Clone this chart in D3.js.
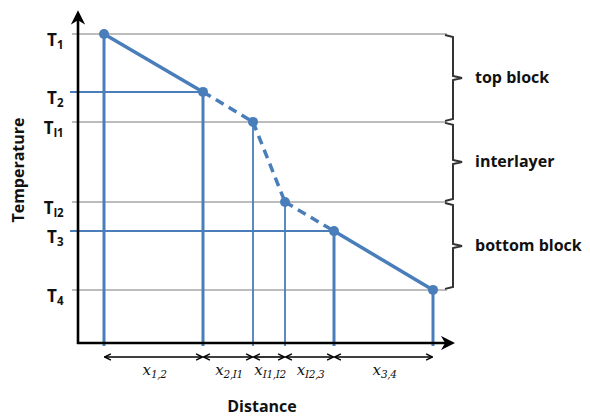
<!DOCTYPE html>
<html>
<head>
<meta charset="utf-8">
<script src="https://cdn.jsdelivr.net/npm/d3@7"></script>
<style>
  body { margin: 0; background: #fff; }
  svg { display: block; }
</style>
</head>
<body>
<div id="chart"></div>
<script>
// ---- data ----
const pointNames = ["1", "2", "I1", "I2", "3", "4"];
const distance = [6.5, 31.25, 43.75, 51.75, 64, 88.75];
const temperature = [103, 83.7, 73.7, 47, 37.3, 17.7];
const blockNames = ["top block", "interlayer", "bottom block"];
const blockBounds = [["1", "I1"], ["I1", "I2"], ["I2", "4"]];

const width = 590, height = 419;
const blue = "#4a7ebb";
const gray = "#a6a6a6";
const sans = "'Open Sans', Lato, sans-serif";

const svg = d3.select("#chart").append("svg")
  .attr("width", width)
  .attr("height", height);

const x = d3.scaleLinear().domain([0, 100]).range([78, 478]);
const y = d3.scaleLinear().domain([0, 110]).range([343, 13]);

const points = pointNames.map((n, i) => ({ name: n, d: distance[i], t: temperature[i] }));
const byName = n => points.find(p => p.name === n);
const isInter = n => n.startsWith("I");

// boundary levels (gray, full width)
const boundaryNames = new Set(blockBounds.flat());

const defs = svg.append("defs");
defs.append("marker")
  .attr("id", "axisHead")
  .attr("viewBox", "0 0 10 10")
  .attr("refX", 5).attr("refY", 5)
  .attr("markerWidth", 5.5).attr("markerHeight", 5.5)
  .attr("markerUnits", "strokeWidth")
  .attr("orient", "auto")
  .append("path")
  .attr("d", "M0,0 L10,5 L0,10 L3,5 Z")
  .attr("fill", "#000");

defs.append("marker")
  .attr("id", "dimHead")
  .attr("viewBox", "0 0 10 10")
  .attr("refX", 9).attr("refY", 5)
  .attr("markerWidth", 5).attr("markerHeight", 5)
  .attr("markerUnits", "strokeWidth")
  .attr("orient", "auto-start-reverse")
  .append("path")
  .attr("d", "M1,1 L9,5 L1,9")
  .attr("fill", "none")
  .attr("stroke", "#000")
  .attr("stroke-width", 1.8);

/* gray reference lines */
svg.selectAll(".level")
  .data(points.filter(p => boundaryNames.has(p.name)))
  .enter().append("line")
  .attr("x1", x(0) - 6).attr("x2", 447)
  .attr("y1", d => y(d.t)).attr("y2", d => y(d.t))
  .attr("stroke", gray)
  .attr("stroke-width", 1.5);

/* blue level lines to points */
svg.selectAll(".plevel")
  .data(points.filter(p => !boundaryNames.has(p.name)))
  .enter().append("line")
  .attr("x1", x(0) - 8).attr("x2", d => x(d.d))
  .attr("y1", d => y(d.t)).attr("y2", d => y(d.t))
  .attr("stroke", blue)
  .attr("stroke-width", 2);

/* verticals */
svg.selectAll(".vert")
  .data(points)
  .enter().append("line")
  .attr("x1", d => x(d.d)).attr("x2", d => x(d.d))
  .attr("y1", d => y(d.t)).attr("y2", y(0) + 3)
  .attr("stroke", blue)
  .attr("stroke-width", d => isInter(d.name) ? 1.8 : 3);

/* profile segments */
const segs = d3.pairs(points);
svg.selectAll(".seg")
  .data(segs)
  .enter().append("line")
  .attr("x1", d => x(d[0].d)).attr("y1", d => y(d[0].t))
  .attr("x2", d => x(d[1].d)).attr("y2", d => y(d[1].t))
  .attr("stroke", blue)
  .attr("stroke-width", 3.5)
  .attr("stroke-dasharray", d => (isInter(d[0].name) || isInter(d[1].name)) ? "9,6" : null);

svg.selectAll(".pt")
  .data(points)
  .enter().append("circle")
  .attr("cx", d => x(d.d)).attr("cy", d => y(d.t))
  .attr("r", 5)
  .attr("fill", blue);

/* axes */
svg.append("line")
  .attr("x1", x(0)).attr("y1", y(0) + 1)
  .attr("x2", x(0)).attr("y2", y(108.5))
  .attr("stroke", "#000").attr("stroke-width", 2.6)
  .attr("marker-end", "url(#axisHead)");
svg.append("line")
  .attr("x1", x(0) - 1).attr("y1", y(0))
  .attr("x2", x(92.5)).attr("y2", y(0))
  .attr("stroke", "#000").attr("stroke-width", 2.6)
  .attr("marker-end", "url(#axisHead)");

/* temperature tick labels */
const tl = svg.selectAll(".tlab")
  .data(points)
  .enter().append("text")
  .attr("x", 63)
  .attr("y", d => y(d.t) + 12)
  .attr("text-anchor", "end")
  .attr("font-family", sans)
  .attr("font-weight", "bold")
  .attr("font-size", 17)
  .attr("fill", "#111");
tl.append("tspan").text("T");
tl.append("tspan").attr("dy", 3).attr("font-size", 11.5)
  .attr("letter-spacing", -0.5).text(d => d.name);

/* dimension arrows */
const dimY = 357;
svg.selectAll(".dim")
  .data(segs)
  .enter().append("line")
  .attr("x1", d => x(d[0].d) + 0.5).attr("x2", d => x(d[1].d) - 0.5)
  .attr("y1", dimY).attr("y2", dimY)
  .attr("stroke", "#000").attr("stroke-width", 1.6)
  .attr("marker-start", "url(#dimHead)")
  .attr("marker-end", "url(#dimHead)");

const dl = svg.selectAll(".dlab")
  .data(segs)
  .enter().append("text")
  .attr("x", d => (x(d[0].d) + x(d[1].d)) / 2 + 1)
  .attr("y", 375)
  .attr("text-anchor", "middle")
  .attr("font-family", "'DejaVu Serif', 'Liberation Serif', serif")
  .attr("font-style", "italic")
  .attr("font-size", 15)
  .attr("fill", "#111");
dl.append("tspan").text("x");
dl.append("tspan").attr("dy", 3).attr("font-size", 10.5)
  .attr("letter-spacing", -0.4)
  .text(d => d[0].name + "," + d[1].name);

/* block brackets */
const bx = 453;
blockNames.forEach((name, i) => {
  const y1 = y(byName(blockBounds[i][0]).t) + 1;
  const y2 = y(byName(blockBounds[i][1]).t) - 1;
  const ym = (y1 + y2) / 2;
  svg.append("path")
    .attr("d", `M${bx - 8},${y1} L${bx},${y1 + 2} L${bx},${ym - 2} L${bx + 9},${ym} L${bx},${ym + 2} L${bx},${y2 - 2} L${bx - 8},${y2}`)
    .attr("fill", "none")
    .attr("stroke", "#333")
    .attr("stroke-width", 2);
  svg.append("text")
    .attr("x", 475).attr("y", ym + 5)
    .attr("font-family", sans)
    .attr("font-weight", "bold")
    .attr("font-size", 16)
    .attr("fill", "#111")
    .text(name);
});

/* axis titles */
svg.append("text")
  .attr("x", 262).attr("y", 412)
  .attr("text-anchor", "middle")
  .attr("font-family", sans)
  .attr("font-weight", "bold")
  .attr("font-size", 16)
  .attr("fill", "#111")
  .text("Distance");

svg.append("text")
  .attr("transform", "translate(24,170) rotate(-90)")
  .attr("text-anchor", "middle")
  .attr("font-family", sans)
  .attr("font-weight", "bold")
  .attr("font-size", 16)
  .attr("fill", "#111")
  .text("Temperature");
</script>
</body>
</html>
